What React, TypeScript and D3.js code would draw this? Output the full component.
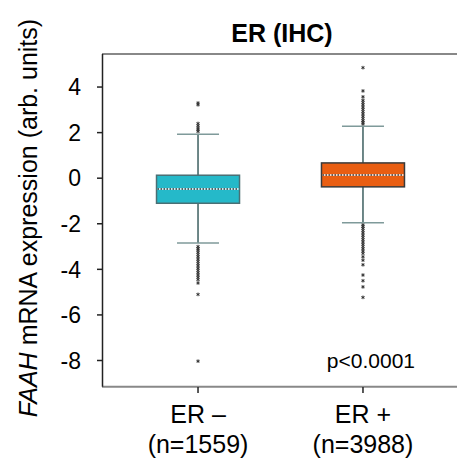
import React from "react";
import * as d3 from "d3";

const categories = ["ER –", "ER +"];
const counts = ["(n=1559)", "(n=3988)"];
const q1 = [-1.1, -0.38];
const medians = [-0.47, 0.14];
const q3 = [0.13, 0.67];
const whiskLow = [-2.84, -1.96];
const whiskHigh = [1.93, 2.28];
const outliersNeg = [3.3, 3.22, 2.4, 2.3, 2.2, 2.12, 2.05, -3.0, -3.08, -3.15, -3.25, -3.35, -3.45, -3.55, -3.65, -3.75, -3.85, -3.95, -4.05, -4.15, -4.25, -4.35, -4.45, -4.6, -5.1, -8.03];
const outliersPos = [4.85, 3.83, 3.57, 3.42, 3.32, 3.22, 3.12, 3.02, 2.92, 2.82, 2.72, 2.62, 2.52, 2.45, 2.38, -2.05, -2.12, -2.2, -2.3, -2.4, -2.5, -2.6, -2.7, -2.8, -2.9, -3.0, -3.1, -3.2, -3.3, -3.45, -3.6, -3.8, -4.25, -4.5, -4.77, -5.23];
const outliers = [outliersNeg, outliersPos];
const yTicks = [4, 2, 0, -2, -4, -6, -8];
const boxColors = ["#25b9c9", "#e95e12"];
const title = "ER (IHC)";
const pText = "p<0.0001";

const W = 457, H = 463;
const font = "'Liberation Sans', Arial, sans-serif";

export default function App() {
  const y = d3.scaleLinear().domain([-9.15, 5.45]).range([386.7, 54]);
  const x = d3.scalePoint<string>().domain(categories).range([104, 457]).padding(0.57);
  const bw = 83, cw = 42;
  const ast = d3.symbol().type(d3.symbolAsterisk).size(9);
  return (
    <svg width={W} height={H} style={{ position: "absolute", left: 0, top: 0 }} fontFamily={font}>
      <rect width={W} height={H} fill="#fff" />
      <text x={282} y={42} textAnchor="middle" fontWeight="bold" fontSize={25}>{title}</text>
      {/* frame */}
      <line x1={102} x2={W} y1={y.range()[1]} y2={y.range()[1]} stroke="#888" strokeWidth={2} />
      <line x1={102} x2={W} y1={y.range()[0]} y2={y.range()[0]} stroke="#888" strokeWidth={2} />
      <line x1={102.5} x2={102.5} y1={y.range()[1]} y2={y.range()[0]} stroke="#222" strokeWidth={1.5} />
      {yTicks.map((t) => (
        <g key={t}>
          <line x1={97} x2={102} y1={y(t)} y2={y(t)} stroke="#222" strokeWidth={1.5} />
          <text x={81} y={y(t)} dy="0.36em" textAnchor="end" fontSize={23}>{t}</text>
        </g>
      ))}
      {categories.map((c, i) => {
        const cx = x(c)!;
        return (
          <g key={c}>
            <line x1={cx} x2={cx} y1={387} y2={393} stroke="#222" strokeWidth={1.5} />
            <text x={cx} y={423} textAnchor="middle" fontSize={25}>{c}</text>
            <text x={cx} y={453} textAnchor="middle" fontSize={25}>{counts[i]}</text>
            <line x1={cx} x2={cx} y1={y(whiskHigh[i])} y2={y(whiskLow[i])} stroke="#3d5f60" strokeWidth={1.5} />
            <line x1={cx - cw / 2} x2={cx + cw / 2} y1={y(whiskHigh[i])} y2={y(whiskHigh[i])} stroke="#7f9a9a" strokeWidth={1.5} />
            <line x1={cx - cw / 2} x2={cx + cw / 2} y1={y(whiskLow[i])} y2={y(whiskLow[i])} stroke="#7f9a9a" strokeWidth={1.5} />
            <rect x={cx - bw / 2} y={y(q3[i])} width={bw} height={y(q1[i]) - y(q3[i])} fill={boxColors[i]} stroke={i === 0 ? "#4a6f74" : "#3a3a3a"} strokeWidth={1.5} />
            <line x1={cx - bw / 2 + 1} x2={cx + bw / 2 - 1} y1={y(medians[i])} y2={y(medians[i])} stroke="#fff" strokeWidth={1.5} />
            <line x1={cx - bw / 2 + 1} x2={cx + bw / 2 - 1} y1={y(medians[i])} y2={y(medians[i])} stroke="#333" strokeWidth={1.5} strokeDasharray="1.5,1.5" />
            {outliers[i].map((v, j) => (
              <path key={j} d={ast()!} transform={`translate(${cx},${y(v)})`} stroke="#333" strokeWidth={1} fill="none" />
            ))}
          </g>
        );
      })}
      <text x={415} y={368} textAnchor="end" fontSize={21}>{pText}</text>
      <text transform="translate(37,218) rotate(-90)" textAnchor="middle" fontSize={25}>
        <tspan fontStyle="italic">FAAH</tspan> mRNA expression (arb. units)
      </text>
    </svg>
  );
}
